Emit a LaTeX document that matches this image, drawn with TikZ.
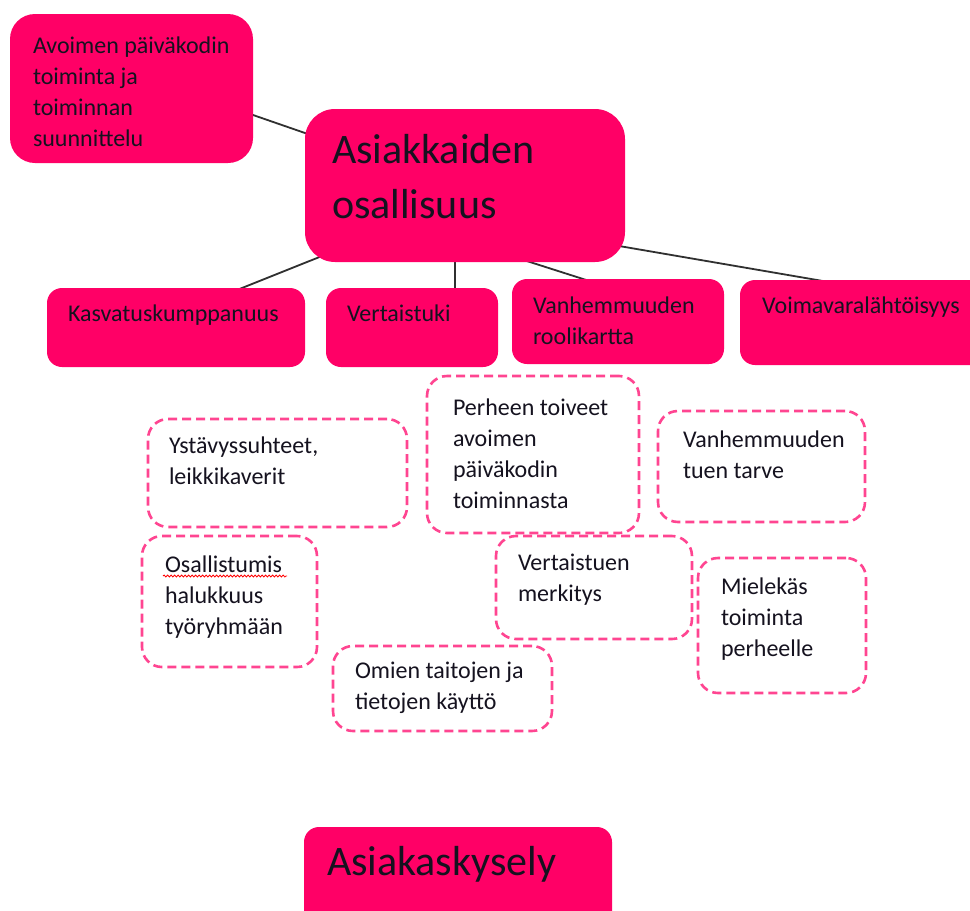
\documentclass[tikz,border=0pt]{standalone}
\usepackage{fontspec}
\setmainfont{Carlito}
\usetikzlibrary{calc,backgrounds,decorations.pathmorphing}
\definecolor{boxpink}{HTML}{FF0066}
\definecolor{dashpink}{HTML}{FF4591}
\definecolor{txtdark}{HTML}{15121F}
\definecolor{linegray}{HTML}{303030}

% #1 style, #2 name, #3 left, #4 top, #5 right, #6 bottom, #7 first baseline, #8 text left, #9 text
\newcommand\mybox[9]{%
  \node[#1, anchor=north west, inner sep=0pt, outer sep=0pt] (#2) at (#3,#4)
  {\parbox[c][\dimexpr #6pt-#4pt\relax][t]{\dimexpr #5pt-#3pt\relax}{\raggedright
   \leftskip=\dimexpr #8pt-#3pt\relax \hfuzz=300pt
   \vspace*{\dimexpr #7pt-#4pt-\ht\strutbox\relax}\strut #9}};}

\tikzset{
  solidbox/.style={fill=boxpink, text=txtdark},
  dashbox/.style={draw=dashpink, fill=white, line width=2.6pt,
                  dash pattern=on 9pt off 5pt, rounded corners=20pt, text=txtdark},
  smalltext/.style={font=\fontsize{24}{31}\selectfont},
  bigtext/.style={font=\fontsize{42}{55}\selectfont},
  conn/.style={draw=linegray, line width=1.8pt}
}

\begin{document}
\begin{tikzpicture}[x=1pt,y=-1pt]
\useasboundingbox (0,0) rectangle (970,911);
\clip (0,0) rectangle (970,911);

% solid boxes
\mybox{solidbox,smalltext,rounded corners=25pt}{avo}{10}{14}{253}{163}{53}{33}{Avoimen päiväkodin\\toiminta ja\\toiminnan\\suunnittelu}
\mybox{solidbox,bigtext,rounded corners=30pt}{central}{305}{109}{625}{262}{163}{332}{Asiakkaiden\\osallisuus}
\mybox{solidbox,smalltext,rounded corners=15pt}{kasv}{47}{288}{305}{367}{321}{68}{Kasvatuskumppanuus}
\mybox{solidbox,smalltext,rounded corners=15pt}{vert}{326}{288}{498}{367}{321}{347}{Vertaistuki}
\mybox{solidbox,smalltext,rounded corners=15pt}{vanh}{512}{279}{724}{364}{313}{533}{Vanhemmuuden\\roolikartta}
\mybox{solidbox,smalltext,rounded corners=15pt}{voima}{740}{280}{985}{365}{313}{762}{Voimavaralähtöisyys}

% dashed boxes
\mybox{dashbox,smalltext}{ystav}{148}{419}{407}{527}{453}{169}{Ystävyssuhteet,\\leikkikaverit}
\mybox{dashbox,smalltext}{perh}{427}{376}{639}{533}{415}{453}{Perheen toiveet\\avoimen\\päiväkodin\\toiminnasta}
\mybox{dashbox,smalltext}{tuen}{658}{411}{865}{522}{447}{683}{Vanhemmuuden\\tuen tarve}
\mybox{dashbox,smalltext}{osal}{142}{536}{317}{667}{572}{165}{Osallistumis\\halukkuus\\työryhmään}
\mybox{dashbox,smalltext}{merk}{496}{536}{692}{639}{570}{518}{Vertaistuen\\merkitys}
\mybox{dashbox,smalltext}{miel}{698}{558}{866}{693}{594}{721}{Mielekäs\\toiminta\\perheelle}
\mybox{dashbox,smalltext}{omien}{333}{646}{552}{731}{678}{355}{Omien taitojen ja\\tietojen käyttö}

% bottom box
\mybox{solidbox,bigtext,rounded corners=15pt}{kysely}{304}{827}{612}{940}{875}{327}{Asiakaskysely}

% spell-check underline
\draw[red, line width=0.8pt, decorate, decoration={snake, amplitude=1pt, segment length=3.5pt}]
  ($(osal.north west)+(21,40)$) -- ++(124,0);

\begin{scope}[on background layer]
  \fill[white] (0,0) rectangle (970,911);
  \draw[conn] ($(avo.east)+(-9.5,23.2)$) -- ($(central.west)+(9.5,-49.2)$);
  \draw[conn] ($(central.south)+(-138.7,-7.7)$) -- ($(kasv.north)+(56.7,3.7)$);
  \draw[conn] ($(central.south)+(-10,-10)$) -- ($(vert.north)+(43,10)$);
  \draw[conn] ($(central.south)+(55.5,-3)$) -- ($(vanh.north)+(-25.5,3)$);
  \draw[conn] ($(central.east)+(-10,59.8)$) -- ($(voima.north)+(-35.5,1.7)$);
\end{scope}
\end{tikzpicture}
\end{document}
